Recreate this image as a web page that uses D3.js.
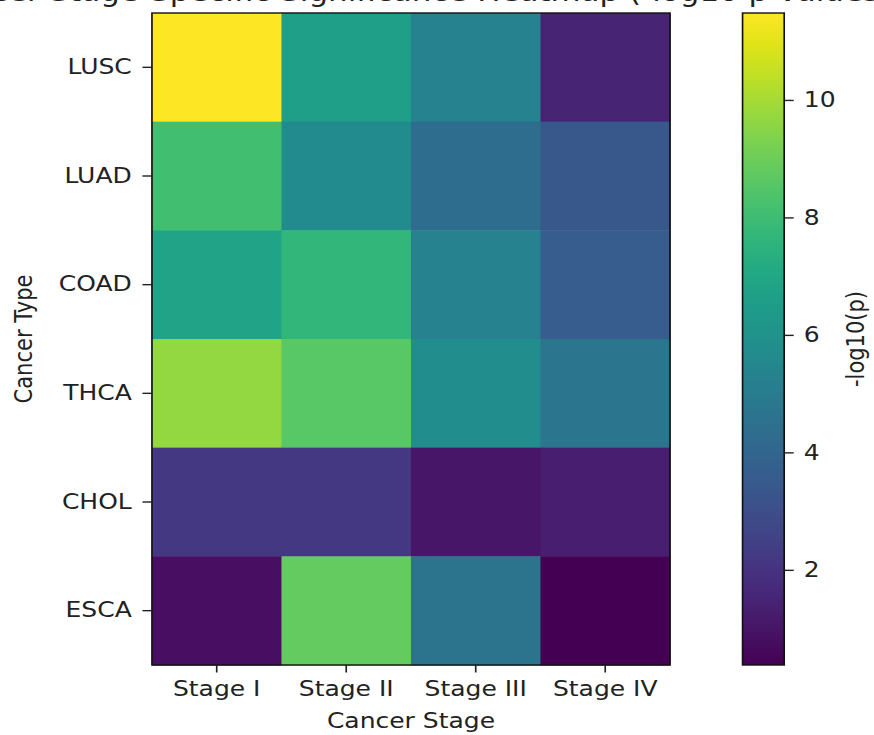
<!DOCTYPE html>
<html>
<head>
<meta charset="utf-8">
<script src="https://cdn.jsdelivr.net/npm/d3@7"></script>
<style>
  html, body { margin: 0; padding: 0; background: #fff; }
  svg { display: block; }
  text { font-family: "DejaVu Sans", sans-serif; fill: #222; }
</style>
</head>
<body>
<div id="chart"></div>
<script>
// heatmap of -log10(p) per cancer type and stage

var cancerTypes = ["LUSC", "LUAD", "COAD", "THCA", "CHOL", "ESCA"];
var stages = ["Stage I", "Stage II", "Stage III", "Stage IV"];

// one row per cancer type, in stage order
var lusc = [11.48, 6.6, 5.3, 1.5];
var luad = [8.1, 5.7, 4.3, 3.4];
var coad = [6.8, 7.7, 5.3, 3.6];
var thca = [9.7, 8.6, 5.8, 4.7];
var chol = [2.2, 2.2, 1.0, 1.3];
var esca = [0.8, 8.8, 4.6, 0.38];

var colorbarTicks = [2, 4, 6, 8, 10];

var rows = [lusc, luad, coad, thca, chol, esca];

// the picture is stretched sideways a little, so draw in a narrower
// viewBox and let the svg stretch it
var W = 874, H = 735, sx = 1.19;
var vw = W / sx;

var fs = 21;

var x0 = 127.7, x1 = 563, y0 = 13, y1 = 665;
var cbX = 624, cbW = 35;

var svg = d3.select("#chart").append("svg")
  .attr("width", W)
  .attr("height", H)
  .attr("viewBox", "0 0 " + vw + " " + H)
  .attr("preserveAspectRatio", "none");

var cells = [];
rows.forEach(function(r, i) {
  r.forEach(function(v, j) {
    cells.push({type: cancerTypes[i], stage: stages[j], value: v});
  });
});

var x = d3.scaleBand().domain(stages).range([x0, x1]);
var y = d3.scaleBand().domain(cancerTypes).range([y0, y1]);

var vmin = d3.min(cells, function(d) { return d.value; });
var vmax = d3.max(cells, function(d) { return d.value; });
var color = d3.scaleSequential(d3.interpolateViridis).domain([vmin, vmax]);

svg.append("g").selectAll("rect")
  .data(cells)
  .enter().append("rect")
    .attr("x", function(d) { return x(d.stage); })
    .attr("y", function(d) { return y(d.type); })
    .attr("width", x.bandwidth() + 0.5)
    .attr("height", y.bandwidth() + 0.5)
    .attr("fill", function(d) { return color(d.value); });

svg.append("rect")
  .attr("x", x0).attr("y", y0)
  .attr("width", x1 - x0).attr("height", y1 - y0)
  .attr("fill", "none")
  .attr("stroke", "#111")
  .attr("stroke-width", 1.4);

// axes
function styleAxis(g) {
  g.select(".domain").remove();
  g.selectAll(".tick line").attr("stroke", "#222").attr("stroke-width", 1.4);
  g.selectAll(".tick text").style("font-size", fs + "px").attr("fill", "#222");
}

svg.append("g")
  .attr("transform", "translate(0," + y1 + ")")
  .call(d3.axisBottom(x).tickSize(7.5).tickPadding(8.5))
  .call(styleAxis);

svg.append("g")
  .attr("transform", "translate(" + x0 + ",0)")
  .call(d3.axisLeft(y).tickSize(8).tickPadding(9))
  .call(styleAxis);

// axis labels
svg.append("text")
  .attr("x", (x0 + x1) / 2)
  .attr("y", 728)
  .attr("text-anchor", "middle")
  .style("font-size", fs + "px")
  .text("Cancer Stage");

svg.append("text")
  .attr("transform", "translate(27," + ((y0 + y1) / 2) + ") rotate(-90)")
  .attr("text-anchor", "middle")
  .style("font-size", fs + "px")
  .text("Cancer Type");

// title, mostly above the top of the picture (the reference crops it too)
svg.append("text")
  .attr("x", (x0 + x1) / 2)
  .attr("y", 1)
  .attr("text-anchor", "middle")
  .style("font-size", "26px")
  .text("Cancer Stage-Specific Significance Heatmap (-log10 p-values)");

// colorbar
var defs = svg.append("defs");
var grad = defs.append("linearGradient")
  .attr("id", "viridisGrad")
  .attr("x1", "0%").attr("y1", "100%")
  .attr("x2", "0%").attr("y2", "0%");
d3.range(0, 1.0001, 0.05).forEach(function(t) {
  grad.append("stop")
    .attr("offset", (t * 100) + "%")
    .attr("stop-color", d3.interpolateViridis(t));
});

svg.append("rect")
  .attr("x", cbX).attr("y", y0)
  .attr("width", cbW).attr("height", y1 - y0)
  .attr("fill", "url(#viridisGrad)")
  .attr("stroke", "#111")
  .attr("stroke-width", 1.4);

var cbScale = d3.scaleLinear().domain([vmin, vmax]).range([y1, y0]);

svg.append("g")
  .attr("transform", "translate(" + (cbX + cbW) + ",0)")
  .call(d3.axisRight(cbScale).tickValues(colorbarTicks).tickSize(8).tickPadding(8.5))
  .call(styleAxis);

svg.append("text")
  .attr("transform", "translate(726," + ((y0 + y1) / 2) + ") rotate(-90)")
  .attr("text-anchor", "middle")
  .style("font-size", fs + "px")
  .text("-log10(p)");
</script>
</body>
</html>
